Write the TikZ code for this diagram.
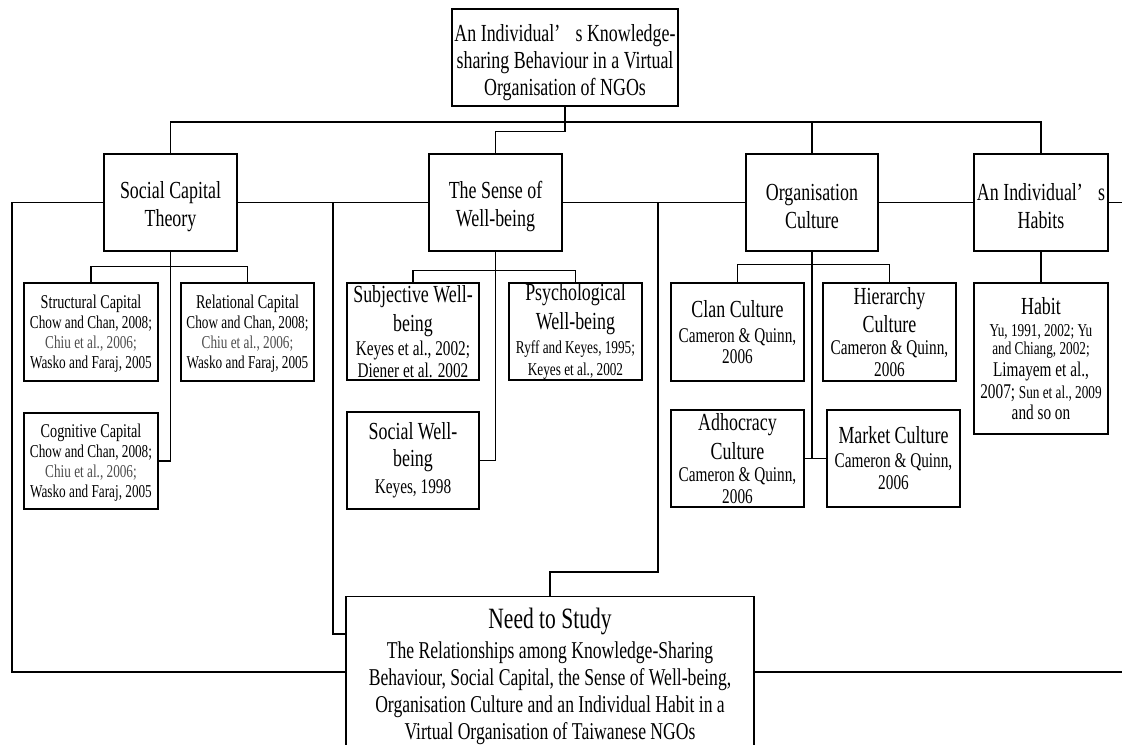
\documentclass[tikz,border=0pt]{standalone}
\usepackage{fontspec}
\setmainfont[FakeStretch=0.73]{Liberation Serif}
\usetikzlibrary{calc}

% type sizes used in the chart
\newcommand\fA{\fontsize{18.4}{20.5}\selectfont}  % box titles
\newcommand\fS{\fontsize{14.6}{16}\selectfont}    % capital titles
\newcommand\fB{\fontsize{13.6}{15}\selectfont}    % small citations
\newcommand\fC{\fontsize{15.7}{17}\selectfont}    % larger citations
\newcommand\fD{\fontsize{22.1}{24}\selectfont}    % heading of the study box
\newcommand\fE{\fontsize{18.1}{20.3}\selectfont}  % body of the study box
\newcommand\apos{’\hspace{0.62em}}
% invisible strut that gives a first line extra room above it
\newcommand\topstrut[1]{\rule{0pt}{#1}}

\tikzset{
  bx/.style 2 args={draw, line width=0.9pt, inner sep=0pt, align=center,
    minimum width=#1*0.75pt, minimum height=#2*0.75pt},
  % line pitch inside a box (each line sets its own type size)
  sk/.style={font=\fontsize{10}{#1}\selectfont},
  ln/.style={line width=0.9pt},
}

\begin{document}
\begin{tikzpicture}[x=0.75pt,y=-0.75pt, ln]
\useasboundingbox (0,0) rectangle (1122,744);
\clip (0,0) rectangle (1122,744);

% top of the hierarchy
\node[bx={226}{97}, sk=20.25pt] (top) at (565,57.5)
  {\topstrut{21pt}\fA An Individual\apos s Knowledge-\\ \fA sharing Behaviour in a Virtual\\ \fA Organisation of NGOs};

% four themes
\node[bx={133}{97}, sk=21pt] (sct) at (170.5,202.5) {\topstrut{18.7pt}\fA Social Capital\\ \fA Theory};
\node[bx={133}{97}, sk=21pt] (swb) at (495.5,202.5) {\topstrut{18.7pt}\fA The Sense of\\ \fA Well-being};
\node[bx={132}{97}, sk=21pt] (oc)  at (812,202.5)   {\topstrut{18.7pt}\fA Organisation\\ \fA Culture};
\node[bx={134}{97}, sk=21pt] (hab) at (1041,202.5)  {\topstrut{18.7pt}\fA An Individual\apos s\\ \fA Habits};

% social capital
\node[bx={134}{98}, sk=15pt] (struct) at (91,332)
  {\topstrut{13pt}\fS Structural Capital\\ \fB Chow and Chan, 2008;\\ \color{black!70}\fB Chiu et al., 2006;\\ \fB Wasko and Faraj, 2005};
\node[bx={133}{98}, sk=15pt] (rel) at (247.5,332)
  {\topstrut{13pt}\fS Relational Capital\\ \fB Chow and Chan, 2008;\\ \color{black!70}\fB Chiu et al., 2006;\\ \fB Wasko and Faraj, 2005};
\node[bx={134}{96}, sk=15pt] (cog) at (91,461)
  {\topstrut{13pt}\fS Cognitive Capital\\ \fB Chow and Chan, 2008;\\ \color{black!70}\fB Chiu et al., 2006;\\ \fB Wasko and Faraj, 2005};

% well-being
\node[bx={132}{97}, sk=16.5pt] (subj) at (413,331.5)
  {\fA Subjective Well-\\[3.75pt] \fA being\\[1.5pt] \fC Keyes et al., 2002;\\ \fC Diener et al. 2002};
\node[bx={133}{97}, sk=16.5pt] (psych) at (575.5,331.5)
  {\fA Psychological\\[3.75pt] \fA Well-being\\[1.5pt] \fB Ryff and Keyes, 1995;\\ \fB Keyes et al., 2002};
\node[bx={132}{97}, sk=20.25pt] (socwb) at (413,460.5)
  {\fA Social Well-\\ \fA being\\ \fC Keyes, 1998};

% organisation culture
\node[bx={133}{98}, sk=15.5pt] (clan) at (737.5,332)
  {\fA Clan Culture\\[3pt] \fC Cameron \& Quinn,\\ \fC 2006};
\node[bx={133}{98}, sk=16.5pt] (hier) at (889.5,332)
  {\fA Hierarchy\\[3.75pt] \fA Culture\\ \fC Cameron \& Quinn,\\ \fC 2006};
\node[bx={133}{97}, sk=16.5pt] (adhoc) at (737.5,458.5)
  {\fA Adhocracy\\[3.75pt] \fA Culture\\ \fC Cameron \& Quinn,\\ \fC 2006};
\node[bx={133}{97}, sk=16.5pt] (market) at (893.5,458.5)
  {\fA Market Culture\\[1.5pt] \fC Cameron \& Quinn,\\ \fC 2006};

% habits
\node[bx={134}{151}, sk=16.5pt] (habit) at (1041,358.5)
  {\fA Habit\\ \fB Yu, 1991, 2002; Yu\\[-3pt] \fB and Chiang, 2002;\\ \fC Limayem et al.,\\ \fC 2007; {\fB Sun et al., 2009}\\[-0.75pt] \fC and so on};

% study box, running past the lower edge
\node[draw, line width=0.9pt, anchor=north, minimum width=408*0.75pt,
      minimum height=200*0.75pt] (need) at (550,596) {};
\node[anchor=north, align=center, inner sep=0pt, sk=20.25pt] (needtxt) at (550,607)
  {\fD Need to Study\\[2.25pt] \fE The Relationships among Knowledge-Sharing\\
   \fE Behaviour, Social Capital, the Sense of Well-being,\\
   \fE Organisation Culture and an Individual Habit in a\\
   \fE Virtual Organisation of Taiwanese NGOs};

% junction points of the connectors
\coordinate (bus)  at (565,122);
\coordinate (Lend) at (12,202.5);
\coordinate (Lbot) at (12,672);
\coordinate (Rend) at (1122,202.5);
\coordinate (Rbot) at (1122,672);
\coordinate (j1)   at (333,202.5);
\coordinate (j1b)  at (333,634);
\coordinate (j2)   at (658,202.5);

% top level
\draw (sct.north) |- (bus) -| (hab.north);
\draw (oc.north) -- (oc.north |- bus);
\draw (top.south) -- ++(0,25) -| (swb.north);

% row through the themes
\draw (sct.west) -- (Lend) -- (Lbot) -- (Lbot -| need.west);
\draw (sct.east) -- (swb.west);
\draw (swb.east) -- (oc.west);
\draw (oc.east) -- (hab.west);
\draw (hab.east) -- (Rend);
\draw (Rbot -| need.east) -- (Rbot);
\draw (j1) -- (j1b) -- (j1b -| need.west);
\draw (j2) |- ($(need.north)+(0,-24)$) -- (need.north);

% social capital branches
\draw (sct.south) |- (cog.east);
\draw (struct.north) -- ++(0,-16) -| (rel.north);

% well-being branches
\draw (swb.south) |- (socwb.east);
\draw (subj.north) -- ++(0,-12) -| (psych.north);

% culture branches
\draw (oc.south) -- (oc.south |- adhoc.east);
\draw (adhoc.east) -- (market.west);
\draw (clan.north) -- ++(0,-18) -| (hier.north);

% habit branch
\draw (hab.south) -- (habit.north);
\end{tikzpicture}
\end{document}
